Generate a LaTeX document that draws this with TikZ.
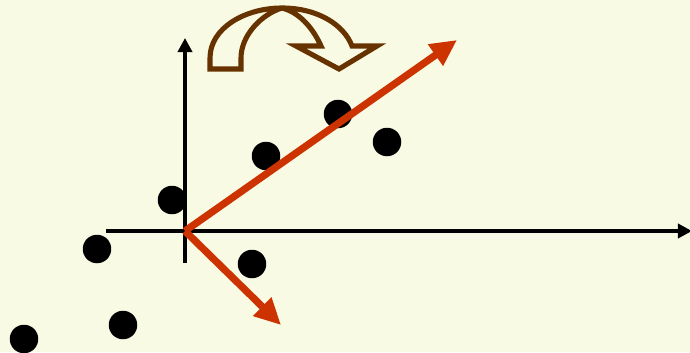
\documentclass[tikz,border=0pt]{standalone}
\usetikzlibrary{arrows.meta}
\definecolor{bg}{RGB}{249,250,228}
\definecolor{vecred}{RGB}{204,51,0}
\definecolor{rotbrown}{RGB}{102,51,0}
\begin{document}
\begin{tikzpicture}[x=0.02cm,y=-0.02cm,
  dot/.style={circle,fill=black,inner sep=0pt,minimum size=0.57cm},
  axis/.style={line width=2.1pt,-{Triangle[length=8pt,width=8pt]}},
  vec/.style={line width=4.1pt,draw=vecred,-{Triangle[length=15pt,width=14pt]},line cap=butt},
  rot/.style={line width=2.9pt,draw=rotbrown,fill=bg,line join=miter}]
\fill[bg] (0,0) rectangle (690,352);
\useasboundingbox (0,0) rectangle (690,352);
% axes
\coordinate (O) at (185,231);
\coordinate (xl) at (106,231);
\coordinate (xr) at (692,231);
\coordinate (yb) at (185,263);
\coordinate (yt) at (185,38);
\draw[axis] (xl) -- (xr);
\draw[axis] (yb) -- (yt);
% dots
\node[dot] (d1) at (24,339) {};
\node[dot] (d2) at (123,325) {};
\node[dot] (d3) at (97,249) {};
\node[dot] (d4) at (172,200) {};
\node[dot] (d5) at (266,156) {};
\node[dot] (d6) at (338,114) {};
\node[dot] (d7) at (387,142) {};
\node[dot] (d8) at (252,264) {};
% red vectors
\coordinate (v1) at (457,40);
\coordinate (v2) at (281,325);
\draw[vec] (O) -- (v1);
\draw[vec] (O) -- (v2);
% curved rotation arrow
\draw[rot] (210,69) -- (210,58) .. controls (210,28) and (245,8) .. (282,8)
  .. controls (318,8) and (344,25) .. (352,46) -- (377,46) -- (339,69) -- (296,46) -- (321,46)
  .. controls (312,26) and (298,12) .. (282,8)
  .. controls (262,14) and (241,35) .. (241,58) -- (241,69) -- cycle;
\end{tikzpicture}
\end{document}
